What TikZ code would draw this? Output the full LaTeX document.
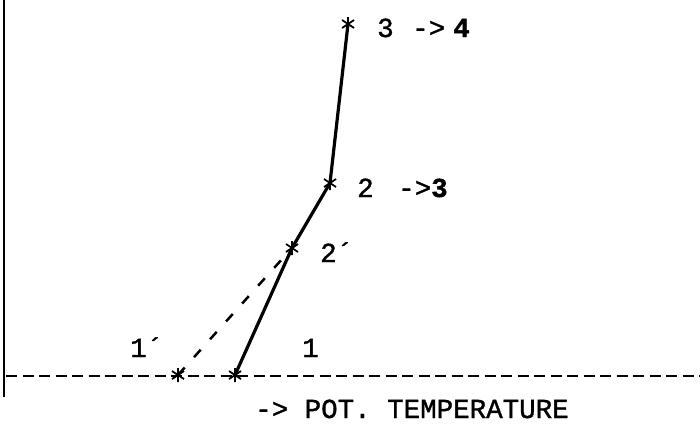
\documentclass[tikz,border=0pt]{standalone}
\usepackage{fontspec}
\setmainfont{Liberation Mono}[FakeBold=1.2]
\usetikzlibrary{positioning}

\tikzset{
  ast/.pic={\draw[line width=1.8pt] (0,-7)--(0,7) (-6,-4)--(6,4) (-6,4)--(6,-4);},
  lbl/.style={anchor=base west,inner sep=0pt,font=\fontsize{27.5}{30}\selectfont},
  curve/.style={line width=3.2pt},
  guess/.style={line width=2.5pt,dash pattern=on 10pt off 14pt},
  axisdash/.style={line width=2.5pt,dash pattern=on 11pt off 5.5pt}
}

\begin{document}
\begin{tikzpicture}[x=1pt,y=-1pt]
\useasboundingbox (0,0) rectangle (700,423);
% points of the profile
\coordinate (p1a) at (178,375);
\coordinate (p1) at (235,375);
\coordinate (p2a) at (292,248);
\coordinate (p2) at (330,183);
\coordinate (p3) at (348,24);
\coordinate (ytop) at (4,0);
\coordinate (ybot) at (4,397);
\coordinate (xl) at (6,376);
\coordinate (xr) at (700,376);
% axes
\draw[line width=2.1pt] (ytop) -- (ybot);
\draw[axisdash] (xl) -- (xr);
% profiles
\draw[curve] (p1) -- (p2a) -- (p2) -- (p3);
\draw[guess] (p1a) -- (p2a);
\foreach \p in {p1a,p1,p2a,p2,p3} \pic at (\p) {ast};
% labels
\node[lbl] (l3) at (377,37) {3 \hspace{2pt}->\hspace{8pt}\textbf{4}};
\node[lbl] (l2) at (357,197) {2 \hspace{8pt}->\textbf{3}};
\node[lbl] (l2a) at (320,262) {2´};
\node[lbl] (l1a) at (130,357) {1´};
\node[lbl] (l1) at (302,357) {1};
\node[lbl] (xlab) at (255,418) {-> POT. TEMPERATURE};
\end{tikzpicture}
\end{document}
